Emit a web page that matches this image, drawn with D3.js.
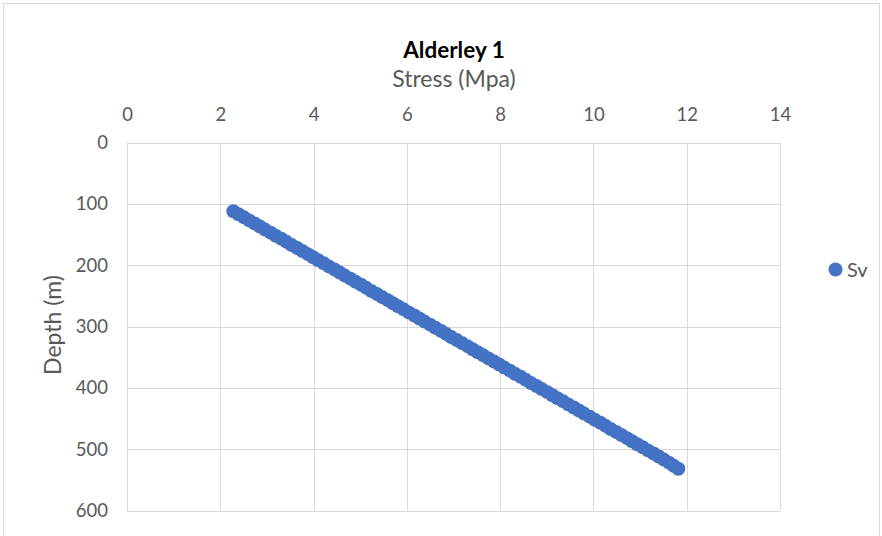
<!DOCTYPE html>
<html><head><meta charset="utf-8">
<script src="https://cdn.jsdelivr.net/npm/d3@7"></script>
<style>body{margin:0;background:#fff}svg{display:block}text{font-family:Lato,"Open Sans",sans-serif}</style>
</head><body><svg id="c" width="882" height="536"></svg>
<script>
const title = "Alderley 1";
const xTitle = "Stress (Mpa)";
const yTitle = "Depth (m)";
const seriesName = "Sv";
const xTicks = [0,2,4,6,8,10,12,14];
const yTicks = [0,100,200,300,400,500,600];
const depth = [112,117,122,127,132,137,142,147,152,157,162,167,172,177,182,187,192,197,202,207,212,217,222,227,232,237,242,247,252,257,262,267,272,277,282,287,292,297,302,307,312,317,322,327,332,337,342,347,352,357,362,367,372,377,382,387,392,397,402,407,412,417,422,427,432,437,442,447,452,457,462,467,472,477,482,487,492,497,502,507,512,517,522,527,532];
const stress = [2.28,2.39,2.51,2.62,2.74,2.85,2.96,3.08,3.19,3.31,3.42,3.53,3.65,3.76,3.88,3.99,4.10,4.22,4.33,4.45,4.56,4.67,4.79,4.90,5.02,5.13,5.24,5.36,5.47,5.59,5.70,5.81,5.93,6.04,6.16,6.27,6.38,6.50,6.61,6.73,6.84,6.95,7.07,7.18,7.30,7.41,7.52,7.64,7.75,7.87,7.98,8.09,8.21,8.32,8.44,8.55,8.66,8.78,8.89,9.01,9.12,9.23,9.35,9.46,9.58,9.69,9.80,9.92,10.03,10.15,10.26,10.37,10.49,10.60,10.72,10.83,10.94,11.06,11.17,11.29,11.40,11.51,11.62,11.72,11.82];

const svg = d3.select("#c");
svg.append("rect").attr("x",3.5).attr("y",3.5).attr("width",876).attr("height",540)
  .attr("fill","#fff").attr("stroke","#d9d9d9");

const x = d3.scaleLinear().domain([0,14]).range([127,780]);
const y = d3.scaleLinear().domain([0,600]).range([142.5,510.5]);

const g = svg.append("g");
g.selectAll(".vg").data(xTicks).join("line")
  .attr("x1",d=>Math.round(x(d))+0.5).attr("x2",d=>Math.round(x(d))+0.5)
  .attr("y1",y(0)).attr("y2",y(600)).attr("stroke","#d9d9d9");
g.selectAll(".hg").data(yTicks).join("line")
  .attr("y1",d=>Math.round(y(d))+0.5).attr("y2",d=>Math.round(y(d))+0.5)
  .attr("x1",x(0)).attr("x2",x(14)).attr("stroke","#d9d9d9");

const xa = svg.append("g").attr("transform",`translate(0,${y(0)})`)
  .call(d3.axisTop(x).tickValues(xTicks).tickSize(0).tickPadding(0));
xa.select(".domain").remove();
xa.selectAll("text").attr("y",-22).attr("fill","#595959").style("font-size","18.5px").style("font-family","Lato");

const ya = svg.append("g").attr("transform",`translate(${x(0)},0)`)
  .call(d3.axisLeft(y).tickValues(yTicks).tickSize(0).tickPadding(19));
ya.select(".domain").remove();
ya.selectAll("text").attr("fill","#595959").style("font-size","18.5px").style("font-family","Lato");

const pts = depth.map((d,i)=>({d, s:stress[i]}));
svg.append("g").selectAll("circle").data(pts).join("circle")
  .attr("cx",p=>x(p.s)).attr("cy",p=>y(p.d)).attr("r",7).attr("fill","#4472c4");

svg.append("text").attr("x",454).attr("y",58).attr("text-anchor","middle")
  .attr("font-weight","bold").style("font-size","22.5px").attr("fill","#000").text(title);
svg.append("text").attr("x",454).attr("y",87).attr("text-anchor","middle")
  .style("font-size","23px").attr("fill","#595959").text(xTitle);
svg.append("text").attr("transform","translate(61,325) rotate(-90)").attr("text-anchor","middle")
  .style("font-size","23px").attr("fill","#595959").text(yTitle);

svg.append("circle").attr("cx",835.5).attr("cy",269.5).attr("r",7).attr("fill","#4472c4");
svg.append("text").attr("x",847).attr("y",276.5).style("font-size","20px").attr("fill","#595959").text(seriesName);
</script></body></html>
